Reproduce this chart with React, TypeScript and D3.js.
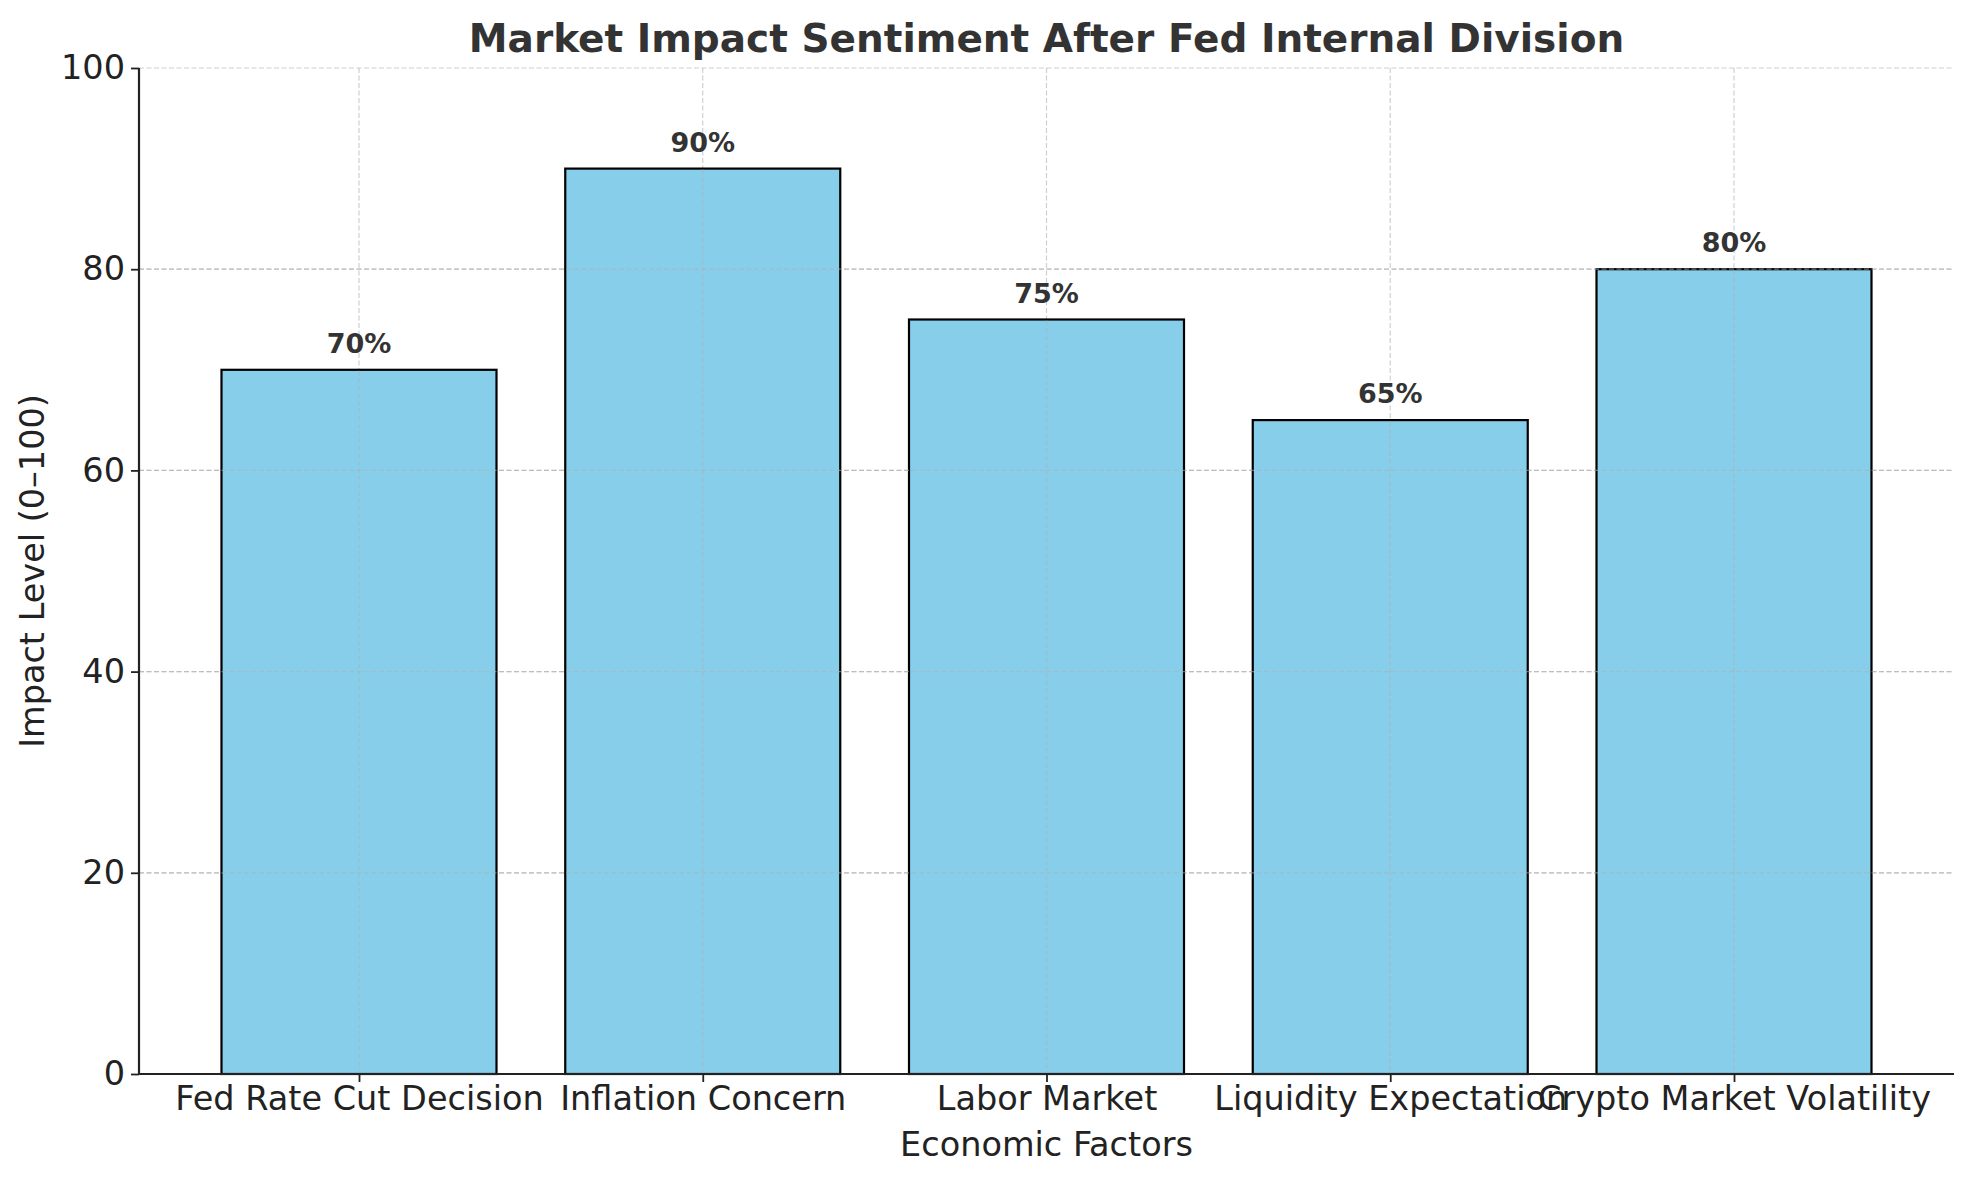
import React, { useEffect, useRef } from 'react';
import * as d3 from 'd3';

const categories: string[] = [
  'Fed Rate Cut Decision',
  'Inflation Concern',
  'Labor Market',
  'Liquidity Expectation',
  'Crypto Market Volatility',
];
const impactValues: number[] = [70, 90, 75, 65, 80];
const yTicks: number[] = [0, 20, 40, 60, 80, 100];

const W = 1972;
const H = 1180;

const App = () => {
  const ref = useRef<SVGSVGElement>(null);

  useEffect(() => {
    const margin = { top: 68, right: 18, bottom: 106, left: 139 };
    const width = W - margin.left - margin.right;
    const height = H - margin.top - margin.bottom;
    const font = '"DejaVu Sans", sans-serif';
    const gridColor = '#b0b0b0';

    const root = d3.select(ref.current);
    root.selectAll('*').remove();

    const svg = root
      .append('g')
      .attr('transform', `translate(${margin.left},${margin.top})`);

    // matplotlib style: bar width 0.8, 5% margins
    const x = d3
      .scaleLinear()
      .domain([-0.64, categories.length - 1 + 0.64])
      .range([0, width]);
    const barW = x(0.8) - x(0);

    const y = d3.scaleLinear().domain([0, 100]).range([height, 0]);

    const gridH = (g: d3.Selection<SVGGElement, unknown, null, undefined>, ticks: number[]) =>
      g
        .selectAll('line')
        .data(ticks)
        .join('line')
        .attr('x1', 0)
        .attr('x2', width)
        .attr('y1', d => y(d))
        .attr('y2', d => y(d))
        .attr('stroke', gridColor)
        .attr('stroke-opacity', 0.6)
        .attr('stroke-width', 1.2)
        .attr('stroke-dasharray', '5,2.5');

    const gridV = (g: d3.Selection<SVGGElement, unknown, null, undefined>, top: (i: number) => number) =>
      g
        .selectAll('line')
        .data(categories)
        .join('line')
        .attr('x1', (_, i) => x(i))
        .attr('x2', (_, i) => x(i))
        .attr('y1', (_, i) => top(i))
        .attr('y2', height)
        .attr('stroke', gridColor)
        .attr('stroke-opacity', 0.6)
        .attr('stroke-width', 1.2)
        .attr('stroke-dasharray', '5,2.5');

    // grid behind
    gridH(svg.append('g'), yTicks);
    gridV(svg.append('g'), () => 0);

    // bars
    svg
      .append('g')
      .selectAll('rect')
      .data(impactValues)
      .join('rect')
      .attr('x', (_, i) => x(i) - barW / 2)
      .attr('y', d => y(d))
      .attr('width', barW)
      .attr('height', d => height - y(d))
      .attr('fill', '#87ceeb')
      .attr('stroke', '#000')
      .attr('stroke-width', 2.2);

    // grid over bars
    gridV(svg.append('g'), i => y(impactValues[i]) + 1);
    gridH(svg.append('g'), yTicks.filter(t => t > 0 && t < 100));

    // value labels
    svg
      .append('g')
      .selectAll('text')
      .data(impactValues)
      .join('text')
      .attr('x', (_, i) => x(i))
      .attr('y', d => y(d) - 17)
      .attr('text-anchor', 'middle')
      .attr('font-family', font)
      .attr('font-weight', 'bold')
      .attr('font-size', 27)
      .attr('fill', '#333')
      .text(d => `${d}%`);

    // axes
    const yAxis = svg
      .append('g')
      .call(
        d3
          .axisLeft(y)
          .tickValues(yTicks)
          .tickSize(8)
          .tickPadding(6)
          .tickFormat(d3.format('d'))
      );
    yAxis.select('.domain').attr('stroke', '#222').attr('stroke-width', 2.2).attr('d', `M0,${height}V0`);
    yAxis.selectAll('.tick line').attr('stroke', '#222').attr('stroke-width', 1.8);
    yAxis
      .selectAll('.tick text')
      .attr('font-family', font)
      .attr('font-size', 33.5)
      .attr('fill', '#222');

    const xAxis = svg
      .append('g')
      .attr('transform', `translate(0,${height})`)
      .call(
        d3
          .axisBottom(x)
          .tickValues(categories.map((_, i) => i))
          .tickSize(8)
          .tickPadding(4)
          .tickFormat((_, i) => categories[i])
      );
    xAxis.select('.domain').attr('stroke', '#222').attr('stroke-width', 2.2).attr('d', `M0,0H${width}`);
    xAxis.selectAll('.tick line').attr('stroke', '#222').attr('stroke-width', 1.8);
    xAxis
      .selectAll('.tick text')
      .attr('font-family', font)
      .attr('font-size', 33.5)
      .attr('fill', '#222');

    // axis titles
    svg
      .append('text')
      .attr('x', width / 2)
      .attr('y', height + 82)
      .attr('text-anchor', 'middle')
      .attr('font-family', font)
      .attr('font-size', 33.5)
      .attr('fill', '#222')
      .text('Economic Factors');

    svg
      .append('text')
      .attr('transform', `translate(${-105},${height / 2}) rotate(-90)`)
      .attr('text-anchor', 'middle')
      .attr('dominant-baseline', 'middle')
      .attr('font-family', font)
      .attr('font-size', 33.5)
      .attr('fill', '#222')
      .text('Impact Level (0–100)');

    svg
      .append('text')
      .attr('x', width / 2)
      .attr('y', -16)
      .attr('text-anchor', 'middle')
      .attr('font-family', font)
      .attr('font-weight', 'bold')
      .attr('font-size', 39)
      .attr('fill', '#333')
      .text('Market Impact Sentiment After Fed Internal Division');
  }, []);

  return (
    <svg
      ref={ref}
      width={W}
      height={H}
      style={{ position: 'absolute', left: 0, top: 0, background: '#fff' }}
    ></svg>
  );
};

export default App;
